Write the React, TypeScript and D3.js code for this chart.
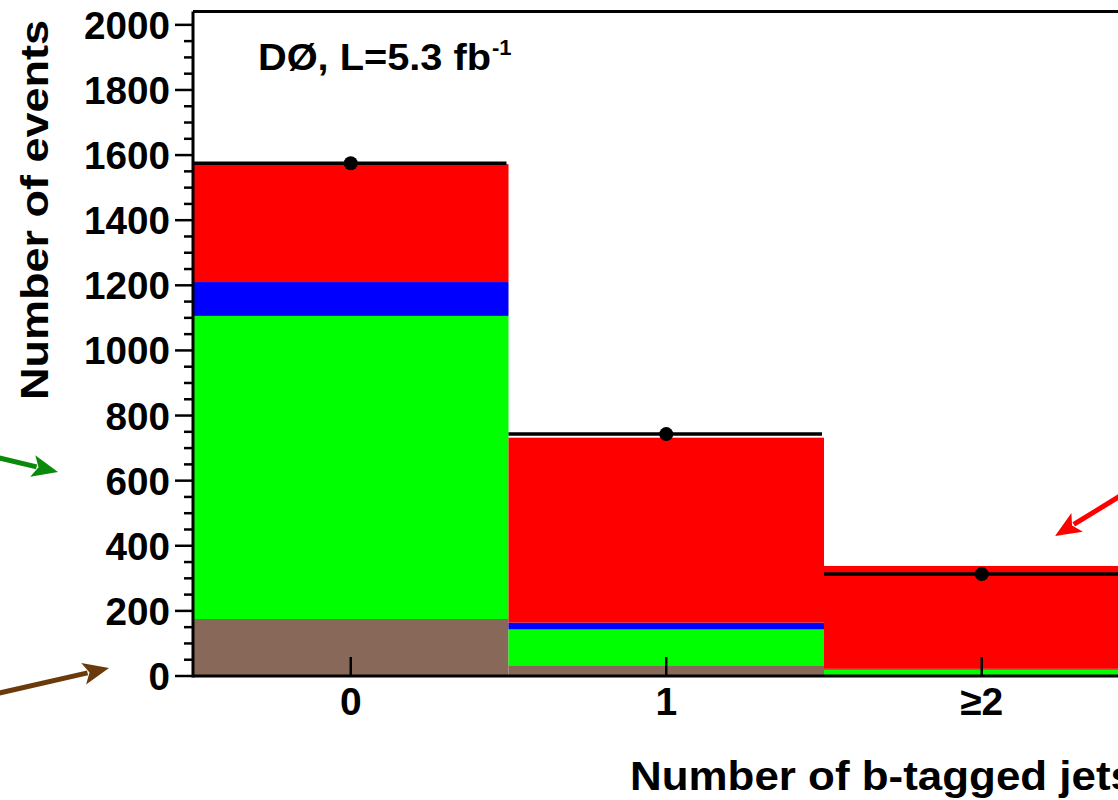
import React, { useRef, useEffect } from "react";
import * as d3 from "d3";

// bins of the histogram
const binLabels = ["0", "1", "≥2"];
const binCenters = [0, 1, 2];
// stacked backgrounds, bottom to top
const brownVals = [175, 33, 2];
const greenVals = [931, 110, 18];
const blueVals = [104, 21, 2];
const redVals = [362, 568, 316];
// observed data
const dataVals = [1575, 743, 313];

const yTicks = [0, 200, 400, 600, 800, 1000, 1200, 1400, 1600, 1800, 2000];

const W = 1118;
const H = 800;
const FONT = "'Liberation Sans', Arial, Helvetica, sans-serif";

export default function App() {
  const ref = useRef<SVGSVGElement>(null);

  useEffect(() => {
    if (!ref.current) return;
    const svg = d3.select(ref.current);
    svg.selectAll("*").remove();

    const margin = { left: 193, top: 11.5, bottom: 676 };
    const x = d3.scaleLinear().domain([-0.5, 2.5]).range([margin.left, margin.left + 315.5 * 3]);
    const y = d3.scaleLinear().domain([0, 2041]).range([margin.bottom, margin.top]);

    const rows = binCenters.map((c, i) => ({
      c,
      brown: brownVals[i],
      green: greenVals[i],
      blue: blueVals[i],
      red: redVals[i],
    }));
    const keys = ["brown", "green", "blue", "red"];
    const colors: Record<string, string> = {
      brown: "#886858",
      green: "#00ff00",
      blue: "#0000ff",
      red: "#ff0000",
    };
    const stack = d3.stack<any>().keys(keys)(rows);

    const plot = svg.append("g");
    stack.forEach(layer => {
      plot.selectAll(null)
        .data(layer)
        .enter()
        .append("rect")
        .attr("x", d => x(d.data.c - 0.5))
        .attr("width", x(1) - x(0))
        .attr("y", d => y(d[1]))
        .attr("height", d => y(d[0]) - y(d[1]))
        .attr("fill", colors[layer.key]);
    });

    // data: horizontal bin-width line plus marker
    plot.selectAll(null)
      .data(dataVals)
      .enter()
      .append("line")
      .attr("x1", (d, i) => x(binCenters[i] - 0.5))
      .attr("x2", (d, i) => x(binCenters[i] + 0.5) - 2)
      .attr("y1", d => y(d))
      .attr("y2", d => y(d))
      .attr("stroke", "#000")
      .attr("stroke-width", 3.5);
    plot.selectAll(null)
      .data(dataVals)
      .enter()
      .append("circle")
      .attr("cx", (d, i) => x(binCenters[i]))
      .attr("cy", d => y(d))
      .attr("r", 7)
      .attr("fill", "#000");

    // frame
    const axW = 3;
    svg.append("line")
      .attr("x1", x(-0.5)).attr("x2", x(-0.5))
      .attr("y1", y.range()[1]).attr("y2", y(0) + axW / 2)
      .attr("stroke", "#000").attr("stroke-width", axW);
    svg.append("line")
      .attr("x1", x(-0.5)).attr("x2", W + 20)
      .attr("y1", y(0)).attr("y2", y(0))
      .attr("stroke", "#000").attr("stroke-width", axW);
    svg.append("line")
      .attr("x1", x(-0.5)).attr("x2", W + 20)
      .attr("y1", y.range()[1]).attr("y2", y.range()[1])
      .attr("stroke", "#000").attr("stroke-width", axW);

    // y ticks: major every 200, minor every 50
    const minor = d3.range(0, 2041, 50).filter(v => v % 200 !== 0);
    svg.selectAll(null)
      .data(minor)
      .enter()
      .append("line")
      .attr("x1", x(-0.5) - 9).attr("x2", x(-0.5))
      .attr("y1", d => y(d)).attr("y2", d => y(d))
      .attr("stroke", "#000").attr("stroke-width", 2.5);
    svg.selectAll(null)
      .data(yTicks)
      .enter()
      .append("line")
      .attr("x1", x(-0.5) - 18).attr("x2", x(-0.5))
      .attr("y1", d => y(d)).attr("y2", d => y(d))
      .attr("stroke", "#000").attr("stroke-width", 2.5);
    svg.selectAll(null)
      .data(yTicks)
      .enter()
      .append("text")
      .attr("x", x(-0.5) - 23)
      .attr("y", d => y(d))
      .attr("dy", "0.36em")
      .attr("text-anchor", "end")
      .attr("font-family", FONT)
      .attr("font-weight", "bold")
      .attr("font-size", 39)
      .attr("textLength", d => String(d).length * 21.5)
      .attr("lengthAdjust", "spacingAndGlyphs")
      .text(d => d);

    // x ticks (inside) and labels
    svg.selectAll(null)
      .data(binCenters)
      .enter()
      .append("line")
      .attr("x1", d => x(d)).attr("x2", d => x(d))
      .attr("y1", y(0)).attr("y2", y(0) - 19)
      .attr("stroke", "#000").attr("stroke-width", 2.5);
    svg.selectAll(null)
      .data(binCenters)
      .enter()
      .append("text")
      .attr("x", d => x(d))
      .attr("y", 715)
      .attr("text-anchor", "middle")
      .attr("font-family", FONT)
      .attr("font-weight", "bold")
      .attr("font-size", 39)
      .text((d, i) => binLabels[i]);

    // axis titles
    svg.append("text")
      .attr("transform", "translate(48,210) rotate(-90)")
      .attr("text-anchor", "middle")
      .attr("font-family", FONT)
      .attr("font-weight", "bold")
      .attr("font-size", 38)
      .attr("textLength", 380)
      .attr("lengthAdjust", "spacingAndGlyphs")
      .text("Number of events");
    svg.append("text")
      .attr("x", 630)
      .attr("y", 790)
      .attr("font-family", FONT)
      .attr("font-weight", "bold")
      .attr("font-size", 40)
      .attr("textLength", 505)
      .attr("lengthAdjust", "spacingAndGlyphs")
      .text("Number of b-tagged jets");

    // experiment label
    const lab = svg.append("text")
      .attr("x", 258)
      .attr("y", 70)
      .attr("font-family", FONT)
      .attr("font-weight", "bold")
      .attr("font-size", 36);
    lab.append("tspan")
      .attr("textLength", 233)
      .attr("lengthAdjust", "spacingAndGlyphs")
      .text("DØ, L=5.3 fb");
    lab.append("tspan").attr("dy", -15).attr("dx", 1).attr("font-size", 22).text("-1");

    // arrows
    const arrow = (x1: number, y1: number, x2: number, y2: number, color: string) => {
      const ang = Math.atan2(y2 - y1, x2 - x1);
      const headLen = 26;
      const headW = 11;
      const bx = x2 - headLen * Math.cos(ang);
      const by = y2 - headLen * Math.sin(ang);
      svg.append("line")
        .attr("x1", x1).attr("y1", y1)
        .attr("x2", bx + 4 * Math.cos(ang)).attr("y2", by + 4 * Math.sin(ang))
        .attr("stroke", color).attr("stroke-width", 5);
      const px = -Math.sin(ang) * headW;
      const py = Math.cos(ang) * headW;
      svg.append("path")
        .attr("d", `M${x2},${y2}L${bx + px},${by + py}L${bx + 6 * Math.cos(ang)},${by + 6 * Math.sin(ang)}L${bx - px},${by - py}Z`)
        .attr("fill", color);
    };
    arrow(-5, 457, 58, 472, "#0a8a0a");
    arrow(-5, 694, 109, 668, "#6b3a0a");
    arrow(1125, 493, 1055, 536, "#ff0000");
  }, []);

  return (
    <svg
      ref={ref}
      width={W}
      height={H}
      style={{ position: "absolute", left: 0, top: 0, background: "#fff" }}
    />
  );
}
